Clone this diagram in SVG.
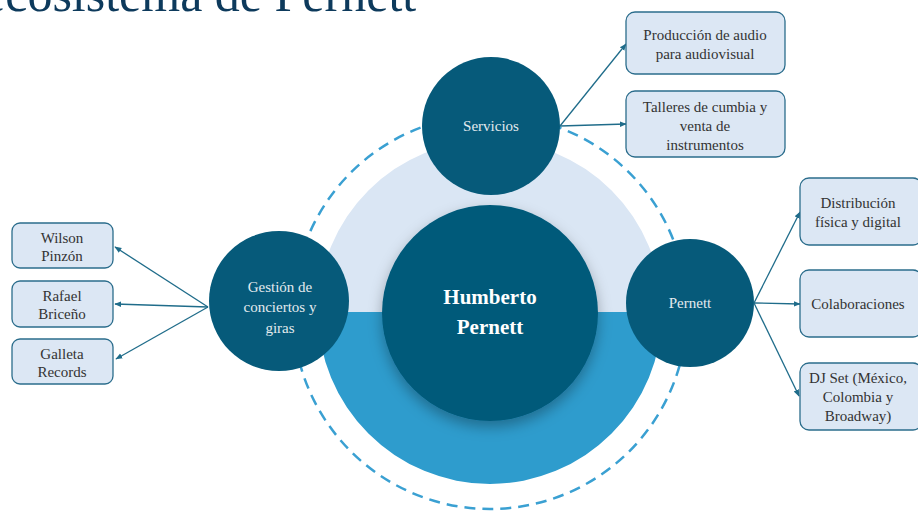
<svg xmlns="http://www.w3.org/2000/svg" width="918" height="511" viewBox="0 0 918 511">
<defs>
<style>
.box{fill:#dce7f4;stroke:#2b6d8c;stroke-width:1.3}
.bt{font-family:"Liberation Serif","Times New Roman",serif;font-size:15px;fill:#333;text-anchor:middle}
.ct{font-family:"Liberation Serif","Times New Roman",serif;font-size:15px;fill:#e3eaee;text-anchor:middle}
.node{fill:#065a7a}
.conn{stroke:#1f6c8a;stroke-width:1.3;fill:none;marker-end:url(#ah)}
</style>
<marker id="ah" viewBox="0 0 10 10" refX="9" refY="5" markerWidth="7" markerHeight="7" orient="auto" markerUnits="userSpaceOnUse">
<path d="M0,1 L10,5 L0,9 Z" fill="#1f6c8a"/>
</marker>
<filter id="sh" x="-30%" y="-30%" width="160%" height="160%">
<feDropShadow dx="0" dy="6" stdDeviation="7" flood-color="#000" flood-opacity="0.3"/>
</filter>
</defs>
<rect width="918" height="511" fill="#fff"/>
<text x="-17" y="11" font-family="Liberation Serif, serif" font-size="50" fill="#0d3a5c">ecosistema de Pernett</text>

<g id="ring">
<circle cx="490" cy="312" r="197" fill="none" stroke="#3aa0d2" stroke-width="2.5" stroke-dasharray="11 7"/>
<path d="M318 312 A172 172 0 0 1 662 312 Z" fill="#dae6f4"/>
<path d="M318 312 A172 172 0 0 0 662 312 Z" fill="#2e9ccd"/>
</g>

<g id="center">
<circle cx="490" cy="313" r="108" class="node" filter="url(#sh)"/>
<text x="490" y="304" font-family="Liberation Serif, serif" font-size="21" font-weight="bold" fill="#fff" text-anchor="middle">Humberto</text>
<text x="490" y="334" font-family="Liberation Serif, serif" font-size="21" font-weight="bold" fill="#fff" text-anchor="middle">Pernett</text>
</g>

<g id="servicios">
<circle cx="491" cy="126" r="69" class="node"/>
<text x="491" y="131" class="ct">Servicios</text>
</g>
<g id="gestion">
<circle cx="279" cy="301" r="70" class="node"/>
<text x="280" y="292" class="ct">Gestión de</text>
<text x="280" y="312" class="ct">conciertos y</text>
<text x="280" y="333" class="ct">giras</text>
</g>
<g id="pernett">
<circle cx="690" cy="303" r="64" class="node"/>
<text x="690" y="308" class="ct">Pernett</text>
</g>

<g id="connectors">
<line x1="560" y1="126" x2="626" y2="44" class="conn"/>
<line x1="560" y1="126" x2="626" y2="124" class="conn"/>
<line x1="208" y1="307" x2="115" y2="247" class="conn"/>
<line x1="208" y1="307" x2="115" y2="304" class="conn"/>
<line x1="208" y1="307" x2="116" y2="359" class="conn"/>
<line x1="754" y1="303" x2="800" y2="212" class="conn"/>
<line x1="754" y1="303" x2="800" y2="304" class="conn"/>
<line x1="754" y1="303" x2="799" y2="396" class="conn"/>
</g>

<g id="produccion">
<rect x="626" y="12" width="159" height="62" rx="9" class="box"/>
<text x="705" y="40" class="bt">Producción de audio</text>
<text x="705" y="59" class="bt">para audiovisual</text>
</g>
<g id="talleres">
<rect x="626" y="91" width="159" height="66" rx="9" class="box"/>
<text x="705" y="112" class="bt">Talleres de cumbia y</text>
<text x="705" y="131" class="bt">venta de</text>
<text x="705" y="150" class="bt">instrumentos</text>
</g>
<g id="distribucion">
<rect x="800" y="178" width="122" height="67" rx="9" class="box"/>
<text x="858" y="208" class="bt">Distribución</text>
<text x="858" y="227" class="bt">física y digital</text>
</g>
<g id="colaboraciones">
<rect x="800" y="270" width="122" height="67" rx="9" class="box"/>
<text x="858" y="309" class="bt">Colaboraciones</text>
</g>
<g id="djset">
<rect x="800" y="363" width="122" height="67" rx="9" class="box"/>
<text x="858" y="383" class="bt">DJ Set (México,</text>
<text x="858" y="402" class="bt">Colombia y</text>
<text x="858" y="421" class="bt">Broadway)</text>
</g>
<g id="wilson">
<rect x="12" y="223" width="101" height="45" rx="8" class="box"/>
<text x="62" y="243" class="bt">Wilson</text>
<text x="62" y="261" class="bt">Pinzón</text>
</g>
<g id="rafael">
<rect x="12" y="281" width="101" height="46" rx="8" class="box"/>
<text x="62" y="301" class="bt">Rafael</text>
<text x="62" y="319" class="bt">Briceño</text>
</g>
<g id="galleta">
<rect x="12" y="339" width="101" height="45" rx="8" class="box"/>
<text x="62" y="359" class="bt">Galleta</text>
<text x="62" y="377" class="bt">Records</text>
</g>
</svg>
